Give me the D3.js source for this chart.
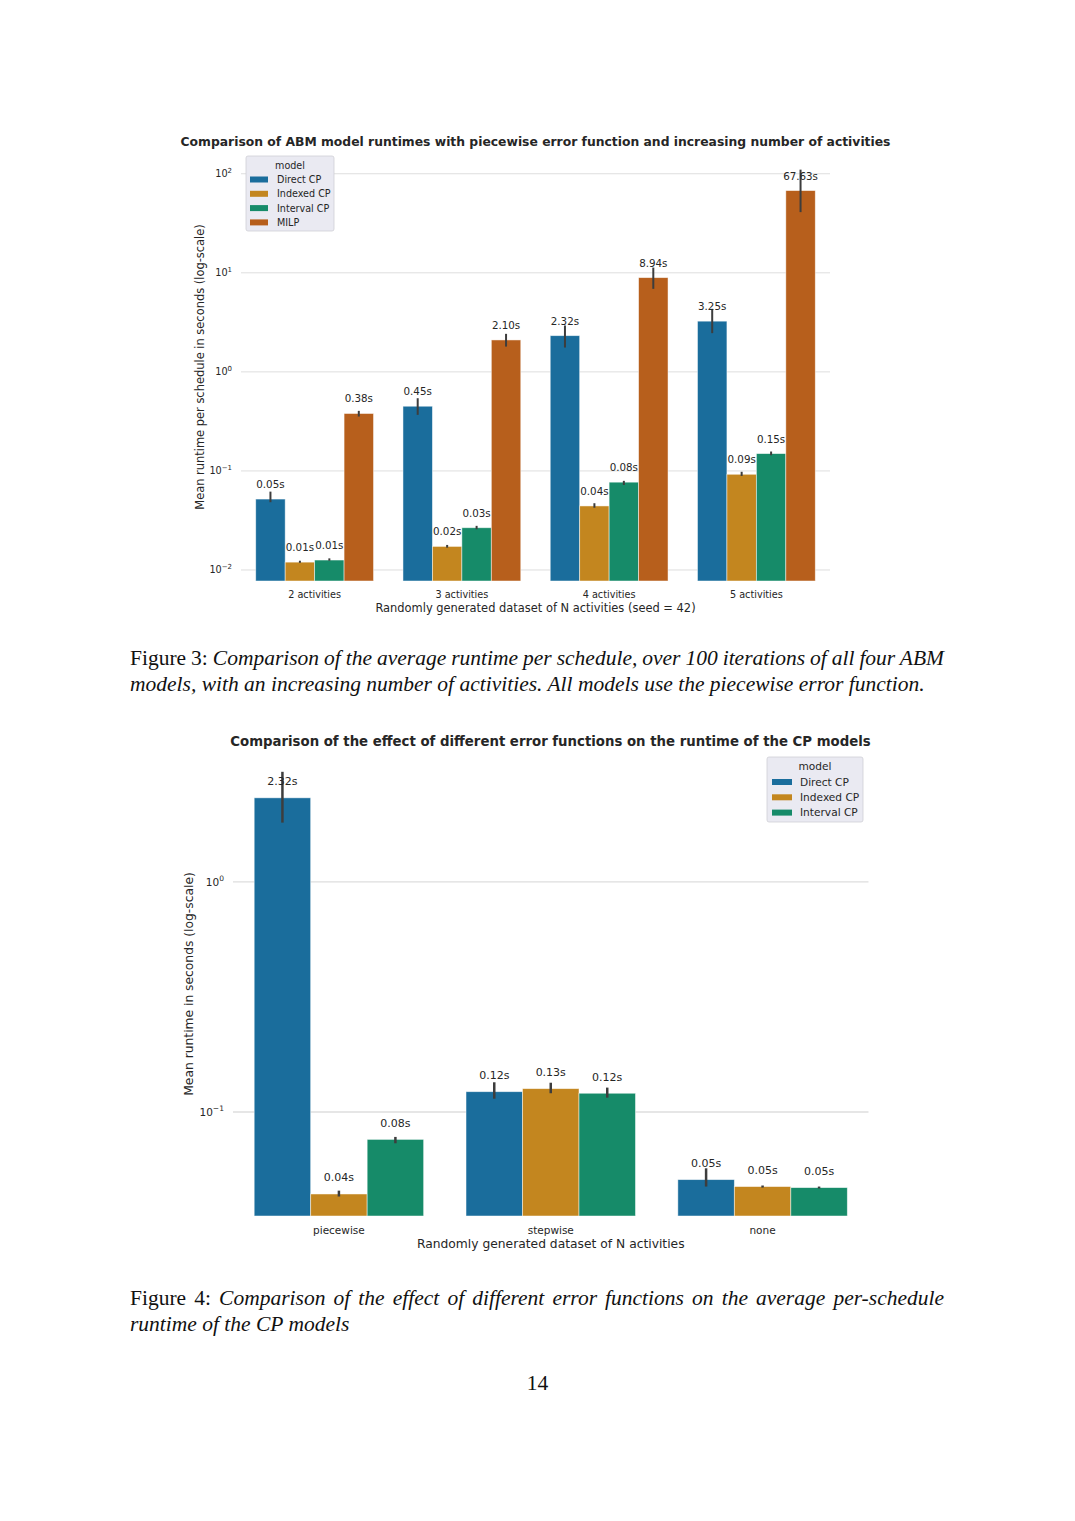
<!DOCTYPE html>
<html>
<head>
<meta charset="utf-8">
<script src="https://cdn.jsdelivr.net/npm/d3@7"></script>
<style>
  html, body { margin: 0; padding: 0; background: #ffffff; }
  svg { display: block; }
</style>
</head>
<body>
<svg id="page" width="1075" height="1521"></svg>
<script>
// ---------------- DATA ----------------
// Figure 3 (top chart)
const topCategories = ["2 activities", "3 activities", "4 activities", "5 activities"];
const topModels = ["Direct CP", "Indexed CP", "Interval CP", "MILP"];
const topDirectCP   = [0.052, 0.45, 2.32, 3.25];
const topIndexedCP  = [0.012, 0.0173, 0.0443, 0.0925];
const topIntervalCP = [0.0126, 0.0267, 0.077, 0.1496];
const topMILP       = [0.38, 2.10, 8.94, 67.63];
const topDirectCI   = [[0.0483, 0.0618], [0.368, 0.542], [1.76, 2.94], [2.46, 4.33]];
const topIndexedCI  = [[0.0118, 0.0124], [0.0168, 0.0179], [0.0425, 0.0472], [0.089, 0.098]];
const topIntervalCI = [[0.0124, 0.0131], [0.0258, 0.0279], [0.0721, 0.0794], [0.144, 0.157]];
const topMILPCI     = [[0.354, 0.404], [1.80, 2.42], [6.89, 11.3], [41.0, 110.0]];
const topYTicks = [0.01, 0.1, 1, 10, 100];
const topTitle = "Comparison of ABM model runtimes with piecewise error function and increasing number of activities";
const topXLabel = "Randomly generated dataset of N activities (seed = 42)";
const topYLabel = "Mean runtime per schedule in seconds (log-scale)";

// Figure 4 (bottom chart)
const botCategories = ["piecewise", "stepwise", "none"];
const botModels = ["Direct CP", "Indexed CP", "Interval CP"];
const botDirectCP   = [2.32, 0.1225, 0.0508];
const botIndexedCP  = [0.044, 0.1263, 0.0474];
const botIntervalCP = [0.076, 0.1206, 0.0469];
const botDirectCI   = [[1.81, 3.01], [0.1142, 0.1346], [0.0474, 0.0569]];
const botIndexedCI  = [[0.0429, 0.0455], [0.1206, 0.134], [0.0469, 0.0479]];
const botIntervalCI = [[0.0731, 0.0779], [0.1154, 0.1276], [0.0465, 0.0474]];
const botYTicks = [0.1, 1];
const botTitle = "Comparison of the effect of different error functions on the runtime of the CP models";
const botXLabel = "Randomly generated dataset of N activities";
const botYLabel = "Mean runtime in seconds (log-scale)";

// Captions
const fig3Label = "Figure 3:";
const fig3Line1 = "Comparison of the average runtime per schedule, over 100 iterations of all four ABM";
const fig3Line2 = "models, with an increasing number of activities. All models use the piecewise error function.";
const fig4Label = "Figure 4:";
const fig4Line1 = "Comparison of the effect of different error functions on the average per-schedule";
const fig4Line2 = "runtime of the CP models";
const pageNumber = "14";

const modelColors = ["#1a6d9c", "#c3861f", "#168b69", "#b75f1c"];

// ---------------- DRAWING ----------------
const svg = d3.select("#page");
const FONT = "DejaVu Sans, sans-serif";
const TXT = "#262626";

function superLabel(sel, v, fs) {
  const e = Math.round(Math.log10(v));
  sel.append("tspan").text("10");
  sel.append("tspan").attr("dy", -fs * 0.42).attr("font-size", fs * 0.72)
     .text(e < 0 ? "\u2212" + Math.abs(e) : String(e));
}

function drawChart(cfg) {
  const g = svg.append("g");
  const x0 = d3.scaleBand().domain(cfg.categories).range([cfg.left, cfg.right]).paddingInner(0).paddingOuter(0);
  const x1 = d3.scaleBand().domain(cfg.models).range([0, x0.bandwidth() * 0.8]);
  const y = d3.scaleLog().domain(cfg.yDomain).range([cfg.bottom, cfg.top]);

  // gridlines
  g.append("g").selectAll("line").data(cfg.yTicks).join("line")
    .attr("x1", cfg.left).attr("x2", cfg.right)
    .attr("y1", d => y(d)).attr("y2", d => y(d))
    .attr("stroke", "#dedede").attr("stroke-width", cfg.gridW);

  // y tick labels
  g.append("g").selectAll("text").data(cfg.yTicks).join("text")
    .attr("x", cfg.yTickX).attr("y", d => y(d) + cfg.tickFs * 0.35)
    .attr("text-anchor", "end").attr("font-family", FONT).attr("font-size", cfg.tickFs)
    .attr("fill", TXT)
    .each(function(d) { superLabel(d3.select(this), d, cfg.tickFs); });

  // bars
  const rows = [];
  cfg.categories.forEach((c, i) => {
    cfg.models.forEach((m, j) => {
      rows.push({ cat: c, model: m, mi: j, v: cfg.series[j][i], ci: cfg.cis[j][i] });
    });
  });
  const gx = c => x0(c) + x0.bandwidth() * 0.1;
  const bars = g.append("g");
  bars.selectAll("rect").data(rows).join("rect")
    .attr("x", d => gx(d.cat) + x1(d.model))
    .attr("width", x1.bandwidth())
    .attr("y", d => y(d.v))
    .attr("height", d => cfg.bottom - y(d.v))
    .attr("fill", d => modelColors[d.mi])
    .attr("stroke", "#ffffff").attr("stroke-opacity", 0.6).attr("stroke-width", 0.8);

  // error bars
  g.append("g").selectAll("line").data(rows).join("line")
    .attr("x1", d => gx(d.cat) + x1(d.model) + x1.bandwidth() / 2)
    .attr("x2", d => gx(d.cat) + x1(d.model) + x1.bandwidth() / 2)
    .attr("y1", d => y(d.ci[0])).attr("y2", d => y(d.ci[1]))
    .attr("stroke", "#3d3d3d").attr("stroke-width", cfg.errW).attr("stroke-linecap", "butt");

  // value labels
  g.append("g").selectAll("text").data(rows).join("text")
    .attr("x", d => gx(d.cat) + x1(d.model) + x1.bandwidth() / 2)
    .attr("y", d => y(d.v) - cfg.labelOff)
    .attr("text-anchor", "middle").attr("font-family", FONT).attr("font-size", cfg.labelFs)
    .attr("fill", TXT)
    .text(d => d.v.toFixed(2) + "s");

  // x tick labels
  g.append("g").selectAll("text").data(cfg.categories).join("text")
    .attr("x", d => x0(d) + x0.bandwidth() / 2).attr("y", cfg.xTickY)
    .attr("text-anchor", "middle").attr("font-family", FONT).attr("font-size", cfg.tickFs)
    .attr("fill", TXT).text(d => d);

  // axis titles
  g.append("text").attr("x", (cfg.left + cfg.right) / 2).attr("y", cfg.xLabelY)
    .attr("text-anchor", "middle").attr("font-family", FONT).attr("font-size", cfg.axisFs)
    .attr("fill", TXT).text(cfg.xLabel);
  g.append("text").attr("transform", `translate(${cfg.yLabelX},${cfg.yLabelY}) rotate(-90)`)
    .attr("text-anchor", "middle").attr("font-family", FONT).attr("font-size", cfg.axisFs)
    .attr("fill", TXT).text(cfg.yLabel);

  // title
  g.append("text").attr("x", cfg.titleX).attr("y", cfg.titleY)
    .attr("text-anchor", "middle").attr("font-family", FONT).attr("font-size", cfg.titleFs)
    .attr("font-weight", "bold").attr("fill", TXT).text(cfg.title);

  // legend
  const L = cfg.legend;
  const lg = g.append("g");
  lg.append("rect").attr("x", L.x).attr("y", L.y).attr("width", L.w).attr("height", L.h)
    .attr("rx", 2).attr("fill", "#eaeaf2").attr("stroke", "#cfcfd6").attr("stroke-width", 0.8);
  lg.append("text").attr("x", L.x + L.w / 2).attr("y", L.titleY)
    .attr("text-anchor", "middle").attr("font-family", FONT).attr("font-size", L.fs)
    .attr("fill", TXT).text("model");
  cfg.models.forEach((m, j) => {
    const cy = L.firstY + j * L.step;
    lg.append("rect").attr("x", L.patchX).attr("y", cy - 3).attr("width", L.patchW).attr("height", 6)
      .attr("fill", modelColors[j]);
    lg.append("text").attr("x", L.textX).attr("y", cy + L.fs * 0.36)
      .attr("font-family", FONT).attr("font-size", L.fs).attr("fill", TXT).text(m);
  });
}

drawChart({
  categories: topCategories, models: topModels,
  series: [topDirectCP, topIndexedCP, topIntervalCP, topMILP],
  cis: [topDirectCI, topIndexedCI, topIntervalCI, topMILPCI],
  yTicks: topYTicks, yDomain: [0.00774, 162],
  left: 241, right: 830, top: 153, bottom: 581,
  gridW: 1, errW: 2, labelOff: 11, labelFs: 10.3, tickFs: 9.7, axisFs: 11.45, titleFs: 12.35,
  yTickX: 232, xTickY: 597.5, xLabelY: 612, xLabel: topXLabel,
  yLabelX: 204, yLabelY: 367, yLabel: topYLabel,
  titleX: 535.5, titleY: 146, title: topTitle,
  legend: { x: 246, y: 156, w: 88, h: 75, titleY: 168.5, firstY: 179.5, step: 14.3,
            patchX: 250, patchW: 18, textX: 277, fs: 9.6 }
});

drawChart({
  categories: botCategories, models: botModels,
  series: [botDirectCP, botIndexedCP, botIntervalCP],
  cis: [botDirectCI, botIndexedCI, botIntervalCI],
  yTicks: botYTicks, yDomain: [0.0353, 3.67],
  left: 233, right: 868.5, top: 752, bottom: 1216,
  gridW: 1.4, errW: 2.5, labelOff: 12.5, labelFs: 11, tickFs: 10.5, axisFs: 12.3, titleFs: 13.3,
  yTickX: 224, xTickY: 1233.5, xLabelY: 1248, xLabel: botXLabel,
  yLabelX: 193, yLabelY: 984, yLabel: botYLabel,
  titleX: 550.5, titleY: 745.5, title: botTitle,
  legend: { x: 767, y: 757, w: 96, h: 65, titleY: 770, firstY: 782, step: 15.3,
            patchX: 772, patchW: 20, textX: 800, fs: 10.6 }
});

// ---------------- CAPTIONS ----------------
const SERIF = "Liberation Serif, Times New Roman, serif";
const CAP_FS = 21.5;
function captionLine(label, text, x, y, justifyTo) {
  const t = svg.append("text").attr("x", x).attr("y", y)
    .attr("font-family", SERIF).attr("font-size", CAP_FS).attr("fill", "#111");
  if (label) {
    t.append("tspan").text(label + " ");
  }
  t.append("tspan").attr("font-style", "italic").text(text);
  if (justifyTo) {
    const len = t.node().getComputedTextLength();
    const full = (label ? label + " " : "") + text;
    const spaces = (full.match(/ /g) || []).length;
    const extra = (justifyTo - x - len) / spaces;
    t.attr("word-spacing", extra);
  }
  return t;
}
captionLine(fig3Label, fig3Line1, 130, 665, 944);
captionLine(null, fig3Line2, 130, 691, null);
captionLine(fig4Label, fig4Line1, 130, 1305, 944);
captionLine(null, fig4Line2, 130, 1331, null);

svg.append("text").attr("x", 537.5).attr("y", 1390).attr("text-anchor", "middle")
  .attr("font-family", SERIF).attr("font-size", CAP_FS).attr("fill", "#111").text(pageNumber);
</script>
</body>
</html>
